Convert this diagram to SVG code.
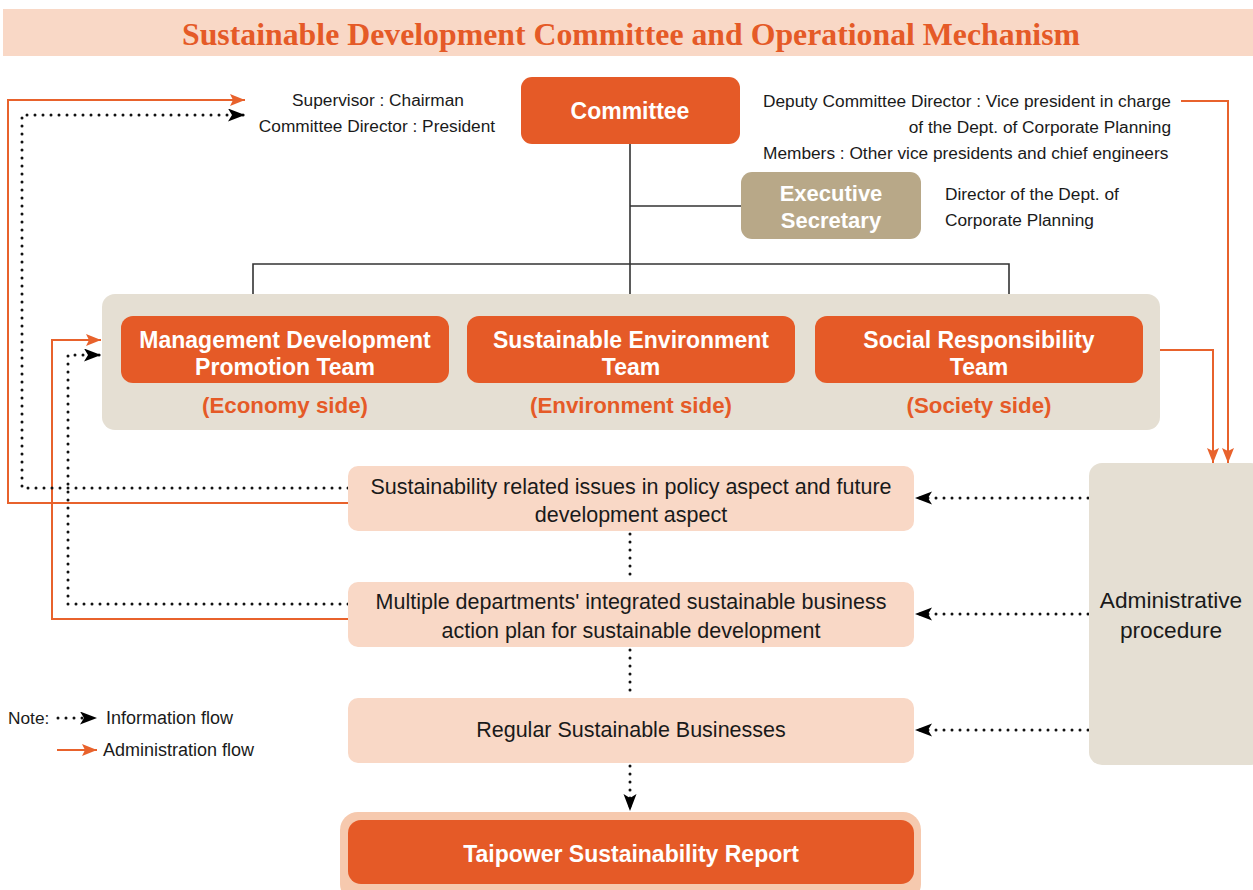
<svg xmlns="http://www.w3.org/2000/svg" width="1253" height="890" viewBox="0 0 1253 890">
  <style>
    .title { font-family: "Liberation Serif", serif; font-weight: bold; font-size: 32px; fill: #e55a27; }
    .lbl { font-family: "Liberation Sans", sans-serif; font-size: 17.3px; fill: #1a1a1a; }
    .wb { font-family: "Liberation Sans", sans-serif; font-weight: bold; font-size: 23px; fill: #ffffff; text-anchor: middle; }
    .side { font-family: "Liberation Sans", sans-serif; font-weight: bold; font-size: 22.3px; fill: #e55a27; text-anchor: middle; }
    .pt { font-family: "Liberation Sans", sans-serif; font-size: 21.5px; fill: #1a1a1a; text-anchor: middle; }
    .orange { fill: #e55a27; }
    .tan { fill: #b8a888; }
    .panel { fill: #e5dfd3; }
    .pink { fill: #f9d8c6; }
    .tree { fill: none; stroke: #333333; stroke-width: 1.6; }
    .adm { fill: none; stroke: #e8622c; stroke-width: 2; marker-end: url(#arrO); }
    .info { fill: none; stroke: #111111; stroke-width: 3; stroke-linecap: round; stroke-dasharray: 0 8; marker-end: url(#arrK); }
    .infoN { fill: none; stroke: #111111; stroke-width: 3; stroke-linecap: round; stroke-dasharray: 0 8; }
  </style>
  <defs>
    <marker id="arrO" markerUnits="userSpaceOnUse" markerWidth="16" markerHeight="14" refX="15" refY="6" orient="auto">
      <path d="M0,0 L15,6 L0,12 L3,6 Z" fill="#e8622c"/>
    </marker>
    <marker id="arrK" markerUnits="userSpaceOnUse" markerWidth="18" markerHeight="14" refX="17" refY="6.5" orient="auto">
      <path d="M0,0 L17,6.5 L0,13 L4,6.5 Z" fill="#000000"/>
    </marker>
  </defs>

  <rect width="1253" height="890" fill="#ffffff"/>

  <!-- title bar -->
  <g id="title">
    <rect x="3" y="9" width="1250" height="47" class="pink"/>
    <text x="631" y="45" class="title" text-anchor="middle" textLength="898" lengthAdjust="spacingAndGlyphs">Sustainable Development Committee and Operational Mechanism</text>
  </g>

  <!-- org tree lines -->
  <g id="tree">
    <path class="tree" d="M630,144 V294 M630,206 H741 M253,294 V264 H1009 V294"/>
  </g>

  <!-- connectors -->
  <g id="connectors">
    <!-- administration flow -->
    <path class="adm" d="M348,503 H8 V100 H245"/>
    <path class="adm" d="M348,619 H52 V340 H101"/>
    <path class="adm" d="M1181,101 H1228 V463"/>
    <path class="adm" d="M1160,350 H1213 V463"/>
    <!-- information flow -->
    <path class="info" d="M348,488 H22 V115 H245"/>
    <path class="info" d="M348,604 H68 V355 H101"/>
    <path class="info" d="M1088,498 H915"/>
    <path class="info" d="M1088,614 H915"/>
    <path class="info" d="M1088,730 H915"/>
    <path class="infoN" d="M630,534 V580"/>
    <path class="infoN" d="M630,650 V696"/>
    <path class="info" d="M630,766 V811"/>
  </g>

  <!-- committee -->
  <g id="committee">
    <rect x="521" y="77" width="219" height="67" rx="11" class="orange"/>
    <text x="630" y="119" class="wb">Committee</text>
  </g>
  <g id="committee-left-note">
    <text x="378" y="106" class="lbl" text-anchor="middle">Supervisor : Chairman</text>
    <text x="377" y="132" class="lbl" text-anchor="middle">Committee Director : President</text>
  </g>
  <g id="committee-right-note">
    <text x="763" y="107" class="lbl">Deputy Committee Director : Vice president in charge</text>
    <text x="1171" y="133" class="lbl" text-anchor="end">of the Dept. of Corporate Planning</text>
    <text x="763" y="159" class="lbl">Members : Other vice presidents and chief engineers</text>
  </g>

  <!-- executive secretary -->
  <g id="executive-secretary">
    <rect x="741" y="172" width="180" height="67" rx="11" class="tan"/>
    <text x="831" y="201" class="wb" style="font-size:22px">Executive</text>
    <text x="831" y="228" class="wb" style="font-size:22px">Secretary</text>
  </g>
  <g id="executive-note">
    <text x="945" y="200" class="lbl">Director of the Dept. of</text>
    <text x="945" y="226" class="lbl">Corporate Planning</text>
  </g>

  <!-- teams -->
  <g id="teams-panel">
    <rect x="102" y="294" width="1058" height="136" rx="13" class="panel"/>
  </g>
  <g id="team-economy">
    <rect x="121" y="316" width="328" height="67" rx="12" class="orange"/>
    <text x="285" y="348" class="wb">Management Development</text>
    <text x="285" y="375" class="wb">Promotion Team</text>
    <text x="285" y="413" class="side">(Economy side)</text>
  </g>
  <g id="team-environment">
    <rect x="467" y="316" width="328" height="67" rx="12" class="orange"/>
    <text x="631" y="348" class="wb">Sustainable Environment</text>
    <text x="631" y="375" class="wb">Team</text>
    <text x="631" y="413" class="side">(Environment side)</text>
  </g>
  <g id="team-society">
    <rect x="815" y="316" width="328" height="67" rx="12" class="orange"/>
    <text x="979" y="348" class="wb">Social Responsibility</text>
    <text x="979" y="375" class="wb">Team</text>
    <text x="979" y="413" class="side">(Society side)</text>
  </g>

  <!-- process steps -->
  <g id="issues">
    <rect x="348" y="466" width="566" height="65" rx="10" class="pink"/>
    <text x="631" y="494" class="pt">Sustainability related issues in policy aspect and future</text>
    <text x="631" y="522" class="pt">development aspect</text>
  </g>
  <g id="action-plan">
    <rect x="348" y="582" width="566" height="65" rx="10" class="pink"/>
    <text x="631" y="609" class="pt">Multiple departments' integrated sustainable business</text>
    <text x="631" y="638" class="pt">action plan for sustainable development</text>
  </g>
  <g id="regular">
    <rect x="348" y="698" width="566" height="65" rx="10" class="pink"/>
    <text x="631" y="737" class="pt">Regular Sustainable Businesses</text>
  </g>
  <g id="report">
    <rect x="340" y="812" width="581" height="90" rx="18" fill="#f6c9ae"/>
    <rect x="348" y="820" width="566" height="64" rx="13" class="orange"/>
    <text x="631" y="862" class="wb">Taipower Sustainability Report</text>
  </g>

  <!-- administrative procedure -->
  <g id="admin-procedure">
    <rect x="1089" y="463" width="175" height="302" rx="13" class="panel"/>
    <text x="1171" y="608" class="pt" style="font-size:22.7px">Administrative</text>
    <text x="1171" y="638" class="pt" style="font-size:22.7px">procedure</text>
  </g>

  <!-- legend -->
  <g id="legend">
    <text x="8" y="724" class="lbl">Note:</text>
    <path class="info" d="M58,718 H97"/>
    <text x="106" y="724" class="lbl" style="font-size:18px">Information flow</text>
    <path class="adm" d="M57,750 H97"/>
    <text x="103" y="756" class="lbl" style="font-size:18px">Administration flow</text>
  </g>
</svg>
